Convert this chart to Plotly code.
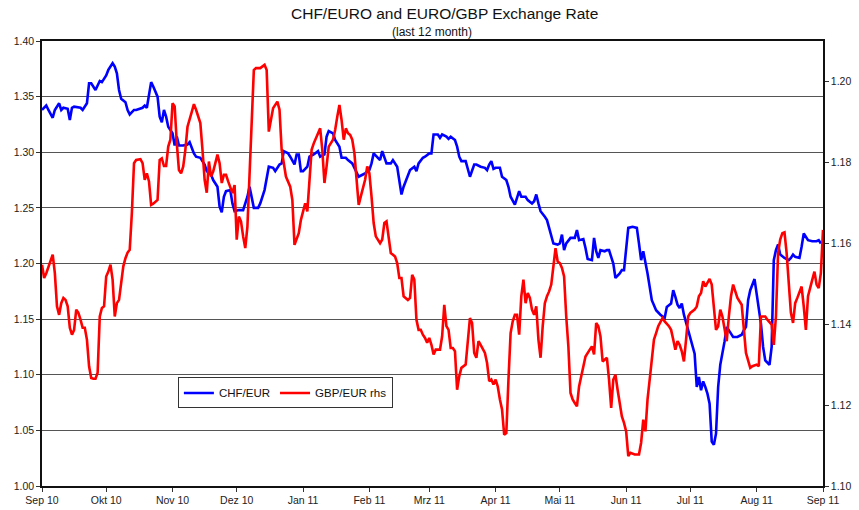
import plotly.graph_objects as go

chf_dates = ["2010-09-01","2010-09-03","2010-09-04","2010-09-06","2010-09-07","2010-09-09","2010-09-10","2010-09-11","2010-09-13","2010-09-14","2010-09-15","2010-09-16","2010-09-19","2010-09-20","2010-09-22","2010-09-23","2010-09-24","2010-09-26","2010-09-28","2010-09-29",
"2010-10-01","2010-10-02","2010-10-04","2010-10-05","2010-10-06","2010-10-07","2010-10-08","2010-10-10","2010-10-11","2010-10-12","2010-10-14","2010-10-15","2010-10-18","2010-10-19","2010-10-20","2010-10-21","2010-10-22","2010-10-23","2010-10-25","2010-10-26","2010-10-27","2010-10-28","2010-10-29","2010-10-30",
"2010-11-01","2010-11-02","2010-11-03","2010-11-04","2010-11-06","2010-11-08","2010-11-09","2010-11-11","2010-11-12","2010-11-14","2010-11-16","2010-11-17","2010-11-19","2010-11-20","2010-11-22","2010-11-23","2010-11-24","2010-11-25","2010-11-26","2010-11-28","2010-11-29","2010-11-30",
"2010-12-02","2010-12-04","2010-12-06","2010-12-07","2010-12-08","2010-12-09","2010-12-11","2010-12-12","2010-12-14","2010-12-15","2010-12-16","2010-12-18","2010-12-19","2010-12-21","2010-12-22","2010-12-23","2010-12-25","2010-12-26","2010-12-28","2010-12-29","2010-12-30","2010-12-31",
"2011-01-01","2011-01-03","2011-01-04","2011-01-06","2011-01-08","2011-01-09","2011-01-11","2011-01-12","2011-01-13","2011-01-15","2011-01-16","2011-01-18","2011-01-19","2011-01-21","2011-01-22","2011-01-24","2011-01-26","2011-01-27","2011-01-29","2011-01-30",
"2011-02-01","2011-02-02","2011-02-03","2011-02-05","2011-02-06","2011-02-07","2011-02-09","2011-02-11","2011-02-12","2011-02-14","2011-02-15","2011-02-16","2011-02-17","2011-02-19","2011-02-20","2011-02-22","2011-02-23","2011-02-24","2011-02-26","2011-02-27",
"2011-03-01","2011-03-02","2011-03-03","2011-03-05","2011-03-06","2011-03-07","2011-03-09","2011-03-10","2011-03-11","2011-03-13","2011-03-14","2011-03-15","2011-03-16","2011-03-18","2011-03-19","2011-03-20","2011-03-22","2011-03-23","2011-03-25","2011-03-27","2011-03-28","2011-03-29","2011-03-30","2011-03-31",
"2011-04-01","2011-04-03","2011-04-04","2011-04-06","2011-04-07","2011-04-08","2011-04-10","2011-04-11","2011-04-12","2011-04-13","2011-04-15","2011-04-16","2011-04-18","2011-04-19","2011-04-20","2011-04-21","2011-04-22","2011-04-24","2011-04-25","2011-04-26","2011-04-27","2011-04-28","2011-04-30",
"2011-05-01","2011-05-02","2011-05-03","2011-05-04","2011-05-06","2011-05-08","2011-05-09","2011-05-10","2011-05-12","2011-05-13","2011-05-14","2011-05-16","2011-05-17","2011-05-18","2011-05-19","2011-05-20","2011-05-22","2011-05-23","2011-05-24","2011-05-26","2011-05-27","2011-05-29","2011-05-30","2011-05-31",
"2011-06-01","2011-06-02","2011-06-04","2011-06-06","2011-06-07","2011-06-08","2011-06-09","2011-06-10","2011-06-11","2011-06-12","2011-06-13","2011-06-15","2011-06-17","2011-06-19","2011-06-20","2011-06-22","2011-06-23","2011-06-24","2011-06-25","2011-06-26","2011-06-27","2011-06-28","2011-06-30",
"2011-07-01","2011-07-03","2011-07-04","2011-07-05","2011-07-06","2011-07-07","2011-07-08","2011-07-09","2011-07-10","2011-07-11","2011-07-12","2011-07-13","2011-07-14","2011-07-15","2011-07-17","2011-07-18","2011-07-20","2011-07-21","2011-07-23","2011-07-25","2011-07-26","2011-07-27","2011-07-28","2011-07-29","2011-07-31",
"2011-08-01","2011-08-03","2011-08-04","2011-08-05","2011-08-07","2011-08-08","2011-08-09","2011-08-10","2011-08-11","2011-08-12","2011-08-14","2011-08-16","2011-08-17","2011-08-18","2011-08-19","2011-08-21","2011-08-22","2011-08-23","2011-08-25","2011-08-27","2011-08-29","2011-08-30","2011-08-31"]

chf_values = [1.338,1.342,1.338,1.331,1.338,1.344,1.338,1.340,1.339,1.329,1.340,1.341,1.340,1.338,1.344,1.362,1.362,1.356,1.364,1.363,
1.369,1.374,1.380,1.377,1.371,1.356,1.348,1.345,1.338,1.334,1.338,1.338,1.340,1.342,1.340,1.353,1.363,1.359,1.350,1.332,1.327,1.338,1.332,1.323,
1.317,1.306,1.314,1.306,1.306,1.307,1.309,1.299,1.296,1.295,1.289,1.283,1.280,1.275,1.269,1.251,1.246,1.260,1.265,1.266,1.254,1.247,
1.248,1.248,1.260,1.269,1.260,1.250,1.250,1.254,1.266,1.275,1.287,1.286,1.283,1.289,1.290,1.301,1.299,1.296,1.289,1.298,1.298,1.283,
1.283,1.287,1.296,1.298,1.301,1.296,1.298,1.314,1.319,1.317,1.311,1.305,1.295,1.295,1.293,1.290,1.281,1.278,1.280,1.281,
1.284,1.290,1.299,1.295,1.293,1.301,1.290,1.290,1.293,1.287,1.275,1.262,1.269,1.278,1.284,1.287,1.283,1.290,1.295,1.296,
1.299,1.299,1.316,1.316,1.313,1.316,1.314,1.312,1.314,1.311,1.305,1.296,1.292,1.292,1.284,1.278,1.289,1.289,1.287,1.286,1.284,1.289,1.292,1.285,
1.286,1.286,1.278,1.275,1.269,1.260,1.253,1.259,1.265,1.260,1.260,1.257,1.254,1.256,1.262,1.254,1.247,1.242,1.239,1.232,1.224,1.218,1.217,
1.218,1.226,1.212,1.218,1.223,1.223,1.230,1.221,1.222,1.214,1.204,1.203,1.223,1.211,1.205,1.212,1.211,1.212,1.212,1.200,1.187,1.191,1.194,1.194,
1.215,1.232,1.233,1.232,1.218,1.203,1.211,1.202,1.191,1.179,1.167,1.158,1.154,1.151,1.161,1.164,1.176,1.170,1.163,1.160,1.164,1.154,1.140,
1.131,1.119,1.089,1.098,1.086,1.094,1.089,1.083,1.074,1.040,1.037,1.047,1.089,1.109,1.130,1.143,1.137,1.134,1.134,1.136,1.140,1.143,1.167,1.176,1.186,
1.173,1.146,1.125,1.113,1.109,1.125,1.203,1.212,1.217,1.208,1.205,1.203,1.205,1.208,1.206,1.205,1.215,1.227,1.221,1.220,1.220,1.221,1.218]

gbp_dates = ["2010-09-01","2010-09-02","2010-09-03","2010-09-05","2010-09-06","2010-09-07","2010-09-08","2010-09-09","2010-09-10","2010-09-11","2010-09-12","2010-09-13","2010-09-14","2010-09-15","2010-09-16","2010-09-17","2010-09-18","2010-09-19","2010-09-20","2010-09-21","2010-09-22","2010-09-23","2010-09-24","2010-09-25","2010-09-26","2010-09-27","2010-09-28","2010-09-29","2010-09-30",
"2010-10-01","2010-10-02","2010-10-03","2010-10-04","2010-10-05","2010-10-06","2010-10-07","2010-10-08","2010-10-09","2010-10-10","2010-10-11","2010-10-12","2010-10-13","2010-10-14","2010-10-15","2010-10-17","2010-10-18","2010-10-19","2010-10-20","2010-10-21","2010-10-22","2010-10-23","2010-10-25","2010-10-26","2010-10-27","2010-10-28","2010-10-29","2010-10-30","2010-10-31",
"2010-11-01","2010-11-02","2010-11-03","2010-11-04","2010-11-05","2010-11-06","2010-11-07","2010-11-08","2010-11-10","2010-11-11","2010-11-12","2010-11-14","2010-11-15","2010-11-16","2010-11-17","2010-11-18","2010-11-19","2010-11-20","2010-11-21","2010-11-22","2010-11-23","2010-11-24","2010-11-25","2010-11-26","2010-11-27","2010-11-29","2010-11-30",
"2010-12-01","2010-12-02","2010-12-03","2010-12-04","2010-12-05","2010-12-06","2010-12-07","2010-12-08","2010-12-09","2010-12-10","2010-12-12","2010-12-14","2010-12-15","2010-12-16","2010-12-17","2010-12-18","2010-12-20","2010-12-21","2010-12-22","2010-12-24","2010-12-26","2010-12-27","2010-12-28","2010-12-29","2010-12-30","2010-12-31",
"2011-01-02","2011-01-03","2011-01-04","2011-01-05","2011-01-06","2011-01-08","2011-01-09","2011-01-10","2011-01-11","2011-01-12","2011-01-13","2011-01-15","2011-01-16","2011-01-17","2011-01-18","2011-01-19","2011-01-20","2011-01-21","2011-01-22","2011-01-23","2011-01-24","2011-01-25","2011-01-26","2011-01-27","2011-01-28","2011-01-30","2011-01-31",
"2011-02-01","2011-02-02","2011-02-03","2011-02-04","2011-02-06","2011-02-07","2011-02-08","2011-02-09","2011-02-10","2011-02-11","2011-02-13","2011-02-14","2011-02-15","2011-02-16","2011-02-17","2011-02-19","2011-02-20","2011-02-21","2011-02-22","2011-02-23","2011-02-24","2011-02-25","2011-02-26","2011-02-27","2011-02-28",
"2011-03-01","2011-03-02","2011-03-03","2011-03-04","2011-03-05","2011-03-06","2011-03-07","2011-03-08","2011-03-09","2011-03-10","2011-03-11","2011-03-12","2011-03-13","2011-03-14","2011-03-15","2011-03-16","2011-03-18","2011-03-19","2011-03-20","2011-03-21","2011-03-22","2011-03-23","2011-03-24","2011-03-25","2011-03-27","2011-03-28","2011-03-29","2011-03-30","2011-03-31",
"2011-04-01","2011-04-02","2011-04-03","2011-04-04","2011-04-05","2011-04-06","2011-04-07","2011-04-08","2011-04-09","2011-04-10","2011-04-11","2011-04-12","2011-04-13","2011-04-14","2011-04-15","2011-04-16","2011-04-17","2011-04-18","2011-04-19","2011-04-20","2011-04-21","2011-04-22","2011-04-23","2011-04-24","2011-04-25","2011-04-26","2011-04-27","2011-04-28","2011-04-29","2011-04-30",
"2011-05-01","2011-05-02","2011-05-03","2011-05-04","2011-05-05","2011-05-06","2011-05-07","2011-05-08","2011-05-09","2011-05-10","2011-05-12","2011-05-13","2011-05-15","2011-05-16","2011-05-17","2011-05-18","2011-05-19","2011-05-20","2011-05-21","2011-05-22","2011-05-23","2011-05-24","2011-05-25","2011-05-26","2011-05-27","2011-05-28","2011-05-30","2011-05-31",
"2011-06-01","2011-06-02","2011-06-03","2011-06-05","2011-06-07","2011-06-08","2011-06-09","2011-06-10","2011-06-11","2011-06-12","2011-06-13","2011-06-14","2011-06-15","2011-06-16","2011-06-18","2011-06-19","2011-06-21","2011-06-22","2011-06-23","2011-06-24","2011-06-25","2011-06-26","2011-06-27","2011-06-28","2011-06-29","2011-06-30",
"2011-07-01","2011-07-03","2011-07-04","2011-07-05","2011-07-06","2011-07-07","2011-07-08","2011-07-09","2011-07-10","2011-07-11","2011-07-12","2011-07-13","2011-07-14","2011-07-15","2011-07-16","2011-07-17","2011-07-18","2011-07-19","2011-07-20","2011-07-21","2011-07-22","2011-07-23","2011-07-25","2011-07-26","2011-07-27","2011-07-29","2011-07-30",
"2011-08-01","2011-08-02","2011-08-03","2011-08-05","2011-08-06","2011-08-08","2011-08-09","2011-08-10","2011-08-11","2011-08-12","2011-08-13","2011-08-14","2011-08-15","2011-08-16","2011-08-17","2011-08-18","2011-08-19","2011-08-20","2011-08-21","2011-08-22","2011-08-23","2011-08-24","2011-08-25","2011-08-26","2011-08-27","2011-08-28","2011-08-29","2011-08-30","2011-08-31","2011-09-01"]

gbp_values = [1.1547,1.1514,1.1526,1.1559,1.1572,1.1526,1.1444,1.1423,1.1452,1.1465,1.1460,1.1444,1.1391,1.1374,1.1386,1.1436,1.1428,1.1411,1.1391,1.1391,1.1362,1.1296,1.1267,1.1265,1.1265,1.1280,1.1419,1.1440,1.1444,
1.1518,1.1530,1.1547,1.1510,1.1419,1.1452,1.1460,1.1510,1.1543,1.1563,1.1577,1.1584,1.1675,1.1798,1.1806,1.1808,1.1798,1.1757,1.1773,1.1753,1.1695,1.1698,1.1707,1.1806,1.1810,1.1791,1.1791,1.1839,1.1856,
1.1946,1.1938,1.1847,1.1781,1.1773,1.1790,1.1831,1.1888,1.1925,1.1944,1.1930,1.1897,1.1831,1.1757,1.1725,1.1802,1.1765,1.1777,1.1798,1.1819,1.1798,1.1749,1.1769,1.1769,1.1753,1.1724,1.1744,
1.1609,1.1666,1.1654,1.1617,1.1588,1.1641,1.1773,1.1921,1.2028,1.2033,1.2033,1.2041,1.2028,1.1876,1.1905,1.1934,1.1950,1.1930,1.1831,1.1765,1.1740,1.1707,1.1596,1.1609,1.1625,1.1658,
1.1699,1.1679,1.1757,1.1831,1.1847,1.1872,1.1884,1.1831,1.1749,1.1790,1.1839,1.1856,1.1880,1.1913,1.1942,1.1905,1.1856,1.1884,1.1872,1.1868,1.1856,1.1823,1.1757,1.1695,1.1716,1.1757,1.1790,
1.1773,1.1716,1.1650,1.1617,1.1600,1.1609,1.1650,1.1654,1.1609,1.1576,1.1567,1.1551,1.1514,1.1514,1.1469,1.1460,1.1465,1.1522,1.1510,1.1411,1.1386,1.1386,1.1374,1.1366,1.1354,
1.1366,1.1349,1.1325,1.1337,1.1337,1.1337,1.1370,1.1448,1.1395,1.1386,1.1341,1.1341,1.1333,1.1238,1.1271,1.1292,1.1300,1.1349,1.1415,1.1403,1.1329,1.1317,1.1358,1.1349,1.1329,1.1304,1.1259,1.1263,1.1251,
1.1263,1.1246,1.1214,1.1189,1.1127,1.1131,1.1263,1.1378,1.1407,1.1423,1.1423,1.1374,1.1469,1.1510,1.1452,1.1477,1.1465,1.1436,1.1423,1.1444,1.1362,1.1317,1.1395,1.1452,1.1469,1.1481,1.1498,1.1551,1.1588,1.1555,
1.1551,1.1539,1.1518,1.1419,1.1345,1.1230,1.1214,1.1205,1.1197,1.1246,1.1296,1.1320,1.1337,1.1345,1.1325,1.1403,1.1395,1.1370,1.1308,1.1312,1.1317,1.1263,1.1193,1.1263,1.1275,1.1238,1.1172,1.1156,
1.1135,1.1074,1.1082,1.1078,1.1078,1.1107,1.1164,1.1135,1.1214,1.1263,1.1312,1.1362,1.1378,1.1395,1.1415,1.1407,1.1395,1.1386,1.1362,1.1337,1.1358,1.1349,1.1333,1.1308,1.1362,1.1419,
1.1428,1.1436,1.1444,1.1469,1.1477,1.1506,1.1493,1.1502,1.1512,1.1498,1.1444,1.1386,1.1395,1.1436,1.1419,1.1386,1.1358,1.1419,1.1469,1.1498,1.1481,1.1465,1.1448,1.1395,1.1329,1.1292,1.1296,
1.1300,1.1296,1.1419,1.1419,1.1411,1.1399,1.1349,1.1419,1.1576,1.1609,1.1625,1.1627,1.1576,1.1493,1.1428,1.1403,1.1452,1.1465,1.1477,1.1493,1.1444,1.1386,1.1469,1.1493,1.1510,1.1530,1.1498,1.1489,1.1526,1.1633]

month_ticks = ["2010-09-01","2010-10-01","2010-11-01","2010-12-01","2011-01-01","2011-02-01","2011-03-01",
               "2011-04-01","2011-05-01","2011-06-01","2011-07-01","2011-08-01","2011-09-01"]
month_labels = ["Sep 10","Okt 10","Nov 10","Dez 10","Jan 11","Feb 11","Mrz 11",
                "Apr 11","Mai 11","Jun 11","Jul 11","Aug 11","Sep 11"]
left_ticks = [1.00, 1.05, 1.10, 1.15, 1.20, 1.25, 1.30, 1.35, 1.40]
right_ticks = [1.10, 1.12, 1.14, 1.16, 1.18, 1.20]

FONT = "Liberation Sans Narrow, Arial Narrow, Liberation Sans, Arial, sans-serif"

fig = go.Figure()
fig.add_trace(go.Scatter(x=chf_dates, y=chf_values, name="CHF/EUR", mode="lines",
                         line=dict(color="#0000FF", width=2.6)))
fig.add_trace(go.Scatter(x=gbp_dates, y=gbp_values, name="GBP/EUR rhs", mode="lines", yaxis="y2",
                         line=dict(color="#FF0000", width=2.6)))

fig.update_layout(
    width=859, height=510,
    margin=dict(l=42, r=36, t=41, b=24),
    paper_bgcolor="white", plot_bgcolor="white",
    font=dict(family=FONT, size=11, color="#222"),
    showlegend=True,
    legend=dict(x=0.174, y=0.209, xanchor="left", yanchor="middle", orientation="h",
                bordercolor="#333", borderwidth=1, bgcolor="white",
                font=dict(family="Liberation Sans, Arial, sans-serif", size=11.5, color="#111"),
                itemwidth=30, tracegroupgap=0),
    xaxis=dict(type="date", range=["2010-09-01", "2011-09-01"], automargin=False,
               tickmode="array", tickvals=month_ticks, ticktext=month_labels,
               ticks="outside", ticklen=4, tickcolor="#333",
               showline=True, linecolor="#111", linewidth=1.5, mirror=True,
               showgrid=False, zeroline=False, tickfont=dict(size=10.5)),
    yaxis=dict(range=[1.0, 1.4], automargin=False, tickmode="array", tickvals=left_ticks, tickformat=".2f",
               ticks="outside", ticklen=4, tickcolor="#333",
               showline=True, linecolor="#111", linewidth=1.5,
               showgrid=True, gridcolor="#555", gridwidth=1, zeroline=False,
               tickfont=dict(size=10.5)),
    yaxis2=dict(range=[1.10, 1.21], automargin=False, overlaying="y", side="right",
                tickmode="array", tickvals=right_ticks, tickformat=".2f",
                ticks="outside", ticklen=4, tickcolor="#333",
                showline=True, linecolor="#111", linewidth=1.5,
                showgrid=False, zeroline=False, tickfont=dict(size=10.5)),
    annotations=[
        dict(text="CHF/EURO and EURO/GBP Exchange Rate", xref="paper", yref="paper",
             x=0.516, y=1, yshift=28, xanchor="center", yanchor="middle", showarrow=False,
             font=dict(family=FONT, size=15.5, color="#111")),
        dict(text="(last 12 month)", xref="paper", yref="paper",
             x=0.499, y=1, yshift=9, xanchor="center", yanchor="middle", showarrow=False,
             font=dict(family=FONT, size=12, color="#111")),
    ],
)

fig.write_html("out.html", config={"displayModeBar": False},
               post_script="document.body.style.margin='0px';")
